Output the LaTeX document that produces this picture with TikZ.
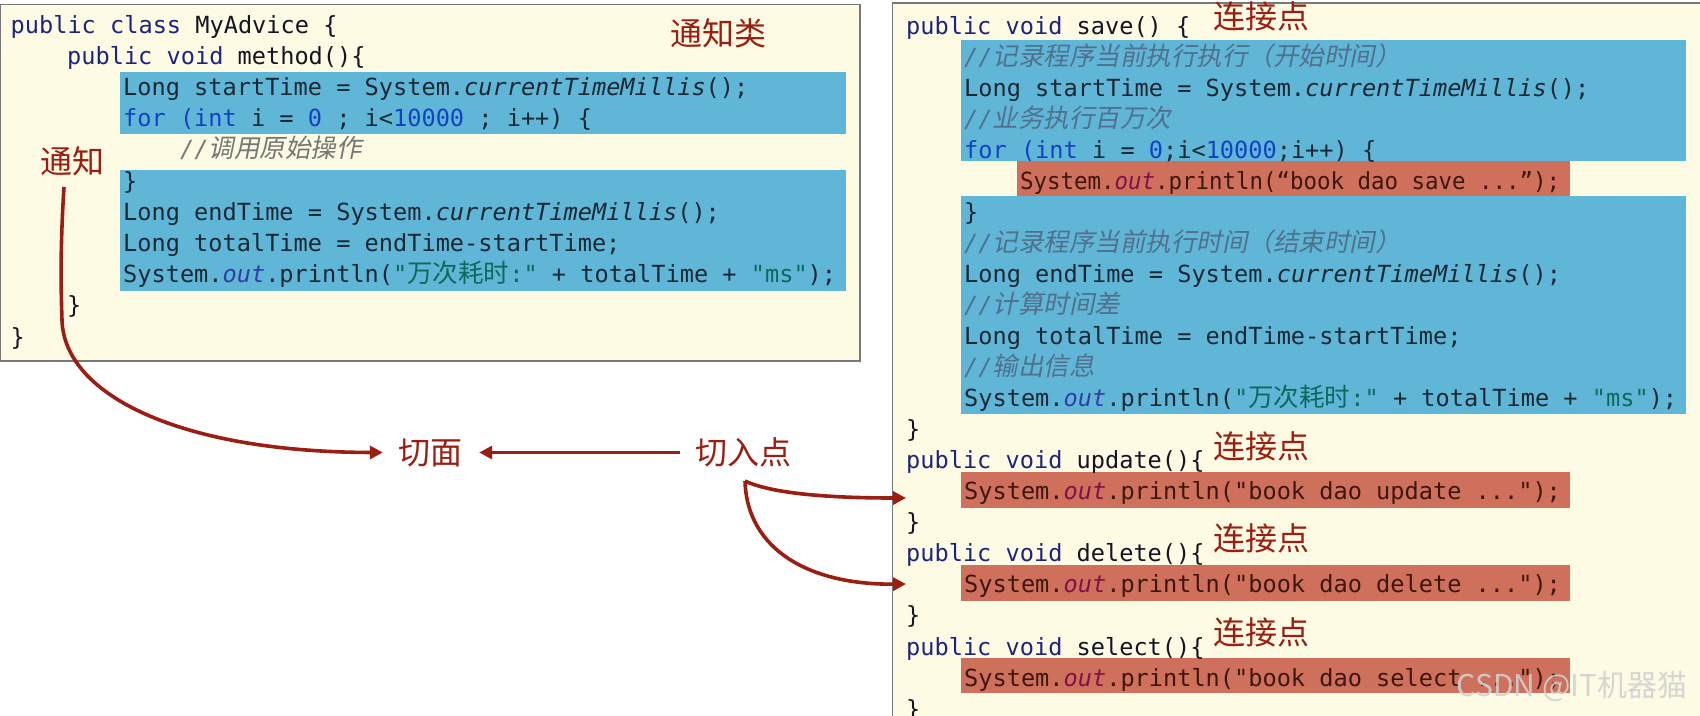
\documentclass[tikz,border=0pt]{standalone}
\usepackage{graphicx}
\usepackage{fontspec}
\setmonofont{DejaVu Sans Mono}
\newfontfamily\cjk{Noto Sans CJK SC}
\newfontfamily\cjkit{Noto Sans CJK SC}[FakeSlant=0.2]
\usetikzlibrary{arrows.meta}
\definecolor{cream}{RGB}{253,251,227}
\definecolor{hlblue}{RGB}{96,182,215}
\definecolor{hlred}{RGB}{207,112,92}
\definecolor{boxgray}{RGB}{120,120,120}
\definecolor{kwc}{RGB}{30,35,125}
\definecolor{plainc}{RGB}{20,20,35}
\definecolor{bplain}{RGB}{28,40,52}
\definecolor{bkw}{RGB}{20,65,195}
\definecolor{bout}{RGB}{50,60,165}
\definecolor{bcom}{RGB}{80,112,140}
\definecolor{strc}{RGB}{12,105,92}
\definecolor{rplain}{RGB}{62,22,12}
\definecolor{rout}{RGB}{125,18,70}
\definecolor{comgray}{RGB}{118,118,118}
\definecolor{labred}{RGB}{155,30,18}
\newcommand\zh[1]{{\cjk\fontsize{25.5}{30}\selectfont #1}}
\newcommand\zhi[1]{{\cjkit\fontsize{25.5}{30}\selectfont #1}}
\newcommand\ck[1]{\textcolor{kwc}{#1}}
\newcommand\bk[1]{\textcolor{bkw}{#1}}
\newcommand\bo{\textit{\textcolor{bout}{out}}}
\newcommand\ro{\textit{\textcolor{rout}{out}}}
\newcommand\cs[1]{\textcolor{strc}{#1}}
\newcommand\cmt[2]{\textcolor{#1}{\itshape //\zhi{#2}}}
\begin{document}
\begin{tikzpicture}[x=1pt,y=-1pt,
  codebase/.style={font=\ttfamily\fontsize{23.6}{28}\selectfont, anchor=base west, inner sep=0pt},
  codeL/.style={codebase, text=plainc},
  codeB/.style={codebase, text=bplain},
  codeR/.style={codebase, text=rplain},
  lab/.style={font=\cjk\fontsize{32}{36}\selectfont, text=labred, inner sep=0pt},
  arr/.style={draw=labred, line width=3.6pt, -{Triangle[length=13pt,width=13pt]}},
  codebox/.style={draw=boxgray, line width=1.3pt, fill=cream},
  hb/.style={fill=hlblue},
  hr/.style={fill=hlred}]
\useasboundingbox (0,0) rectangle (1700,715);
\fill[white] (0,0) rectangle (1700,715);
% boxes
\draw[codebox] (0.5,4.5) rectangle (860,361);
\draw[codebox] (892.5,3) rectangle (1720,740);
% highlights left
\fill[hb] (120,72) rectangle (846,134);
\fill[hb] (120,170) rectangle (846,291);
% highlights right
\fill[hb] (961,40) rectangle (1686,161);
\fill[hr] (1017,161) rectangle (1570,196);
\fill[hb] (961,196) rectangle (1686,414);
\fill[hr] (961,472) rectangle (1570,508);
\fill[hr] (961,565) rectangle (1570,601);
\fill[hr] (961,658) rectangle (1570,693);
% left code
\node[codeL] (l1) at (10.5,33) {\ck{public class} MyAdvice \{};
\node[codeL] (l2) at (67,64.2) {\ck{public void} method()\{};
\node[codeB] (l3) at (123,95.4) {Long startTime = System.\textit{currentTimeMillis}();};
\node[codeB] (l4) at (123,126.6) {\bk{for (int} i = \bk{0} ; i<\bk{10000} ; i++) \{};
\node[codeL] (l5) at (180,157.8) {\cmt{comgray}{调用原始操作}};
\node[codeB] (l6) at (123,189) {\}};
\node[codeB] (l7) at (123,220.2) {Long endTime = System.\textit{currentTimeMillis}();};
\node[codeB] (l8) at (123,251.4) {Long totalTime = endTime-startTime;};
\node[codeB] (l9) at (123,282.6) {System.\bo.println(\cs{"\zh{万次耗时}:"} + totalTime + \cs{"ms"});};
\node[codeL] (l10) at (67,313.8) {\}};
\node[codeL] (l11) at (10.5,345) {\}};
% right code
\node[codeL] (r1) at (906,34) {\ck{public void} save() \{};
\node[codeB] (r2) at (964,65.05) {\cmt{bcom}{记录程序当前执行执行（开始时间）}};
\node[codeB] (r3) at (964,96.1) {Long startTime = System.\textit{currentTimeMillis}();};
\node[codeB] (r4) at (964,127.15) {\cmt{bcom}{业务执行百万次}};
\node[codeB] (r5) at (964,158.2) {\bk{for (int} i = \bk{0};i<\bk{10000};i++) \{};
\node[codeR] (r6) at (1020,189.25) {\scalebox{0.95}[1]{System.\ro.println(“book dao save ...”);}};
\node[codeB] (r7) at (964,220.3) {\}};
\node[codeB] (r8) at (964,251.35) {\cmt{bcom}{记录程序当前执行时间（结束时间）}};
\node[codeB] (r9) at (964,282.4) {Long endTime = System.\textit{currentTimeMillis}();};
\node[codeB] (r10) at (964,313.45) {\cmt{bcom}{计算时间差}};
\node[codeB] (r11) at (964,344.5) {Long totalTime = endTime-startTime;};
\node[codeB] (r12) at (964,375.55) {\cmt{bcom}{输出信息}};
\node[codeB] (r13) at (964,406.6) {System.\bo.println(\cs{"\zh{万次耗时}:"} + totalTime + \cs{"ms"});};
\node[codeL] (r14) at (906,437.65) {\}};
\node[codeL] (r15) at (906,468.7) {\ck{public void} update()\{};
\node[codeR] (r16) at (964,499.75) {System.\ro.println("book dao update ...");};
\node[codeL] (r17) at (906,530.8) {\}};
\node[codeL] (r18) at (906,561.85) {\ck{public void} delete()\{};
\node[codeR] (r19) at (964,592.9) {System.\ro.println("book dao delete ...");};
\node[codeL] (r20) at (906,623.95) {\}};
\node[codeL] (r21) at (906,655) {\ck{public void} select()\{};
\node[codeR] (r22) at (964,686.05) {System.\ro.println("book dao select ...");};
\node[codeL] (r23) at (906,717.1) {\}};
% labels
\node[lab] (tzl) at (718.5,33) {通知类};
\node[lab] (tz) at (72.5,161) {通知};
\node[lab] (qm) at (430,452.5) {切面};
\node[lab] (qr) at (743.5,452.5) {切入点};
\node[lab] (lj1) at (1261.5,16) {连接点};
\node[lab] (lj2) at (1261.5,446.5) {连接点};
\node[lab] (lj3) at (1261.5,538.5) {连接点};
\node[lab] (lj4) at (1261.5,632) {连接点};
% watermark
\node[font=\cjk\fontsize{30}{34}\selectfont, text=white!82!black, opacity=0.9, inner sep=0pt] (wm) at (1572,686) {CSDN @IT机器猫};
% connectors
\coordinate (tzs) at (64,187);
\coordinate (qrs) at (745,481);
\coordinate (upd) at (906,498);
\coordinate (del) at (906,584);
\draw[arr] (tzs) .. controls (60,250) and (61,290) .. (62,320) .. controls (64,395) and (180,452) .. ([xshift=-15pt]qm.west);
\draw[arr] ([xshift=-15pt]qr.west) -- ([xshift=17pt]qm.east);
\draw[arr] (qrs) .. controls (775,495) and (840,498) .. (upd);
\draw[arr] (qrs) .. controls (747,550) and (810,585) .. (del);
\end{tikzpicture}
\end{document}
